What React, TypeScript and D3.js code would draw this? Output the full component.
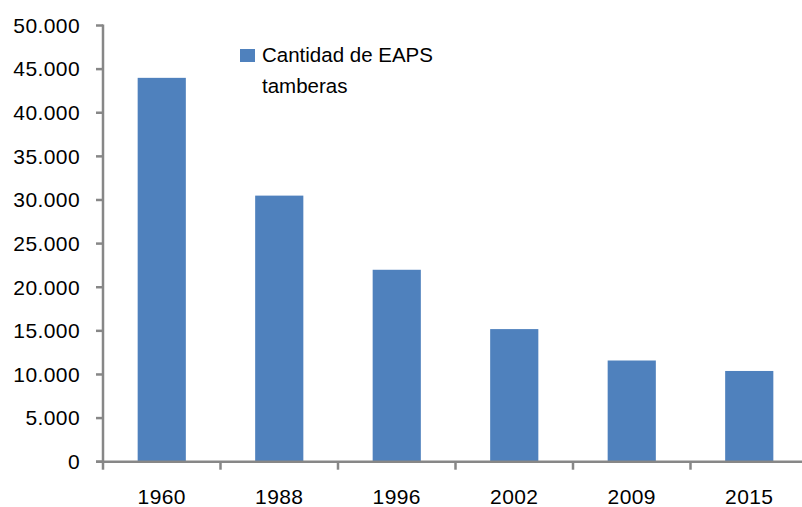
import React from "react";
import * as d3 from "d3";

const categories = ["1960", "1988", "1996", "2002", "2009", "2015"];
const values = [44000, 30500, 22000, 15200, 11600, 10400];
const yTicks = [0, 5000, 10000, 15000, 20000, 25000, 30000, 35000, 40000, 45000, 50000];
const legendLines = ["Cantidad de EAPS", "tamberas"];

const W = 802;
const H = 507;
const FONT = "'Liberation Sans', Arial, sans-serif";

export default function App() {
  const x0 = 103;
  const band = 117.5;
  const x = d3
    .scaleBand<string>()
    .domain(categories)
    .range([x0, x0 + band * categories.length])
    .paddingInner(0.59)
    .paddingOuter(0.295);
  const y = d3.scaleLinear().domain([0, 50000]).range([461.7, 25.5]);
  const fmt = (v: number) => d3.format(",")(v).replace(/,/g, ".");
  const axisColor = "#878787";

  return (
    <svg
      width={W}
      height={H}
      style={{ position: "absolute", left: 0, top: 0, background: "#fff" }}
      fontFamily={FONT}
    >
      {values.map((v, i) => (
        <rect
          key={categories[i]}
          x={x(categories[i])}
          y={y(v)}
          width={x.bandwidth()}
          height={y(0) - y(v)}
          fill="#4F81BD"
        />
      ))}
      {/* y axis */}
      <line x1={x0} x2={x0} y1={y(50000) - 1} y2={y(0) + 1} stroke={axisColor} strokeWidth={2.5} />
      {yTicks.map((t) => (
        <g key={t}>
          <line x1={x0 - 7} x2={x0} y1={y(t)} y2={y(t)} stroke={axisColor} strokeWidth={2.5} />
          <text
            x={80}
            y={y(t)}
            dy="0.35em"
            textAnchor="end"
            fontSize={21}
            fill="#000"
            letterSpacing={0.4}
          >
            {fmt(t)}
          </text>
        </g>
      ))}
      {/* x axis */}
      <line x1={x0 - 7} x2={W} y1={y(0)} y2={y(0)} stroke={axisColor} strokeWidth={2.5} />
      {categories.map((c, i) => (
        <line
          key={"t" + c}
          x1={x0 + band * i}
          x2={x0 + band * i}
          y1={y(0)}
          y2={y(0) + 8}
          stroke={axisColor}
          strokeWidth={2.5}
        />
      ))}
      {categories.map((c) => (
        <text
          key={"l" + c}
          x={(x(c) as number) + x.bandwidth() / 2}
          y={497}
          dy="0.35em"
          textAnchor="middle"
          fontSize={21}
          fill="#000"
          letterSpacing={0.4}
        >
          {c}
        </text>
      ))}
      {/* legend */}
      <rect x={240} y={49} width={15} height={13} fill="#4F81BD" />
      {legendLines.map((l, i) => (
        <text key={l} x={262} y={62 + i * 31} fontSize={20.5} fill="#000">
          {l}
        </text>
      ))}
    </svg>
  );
}
